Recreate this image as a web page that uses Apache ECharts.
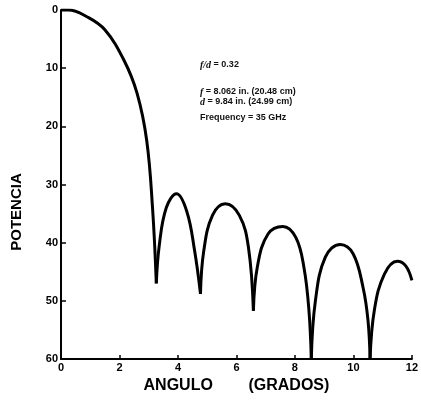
<!DOCTYPE html>
<html>
<head>
<meta charset="utf-8">
<script src="https://cdn.jsdelivr.net/npm/echarts@6/dist/echarts.min.js"></script>
<style>
  html, body { margin: 0; padding: 0; background: #fff; }
  #chart { width: 421px; height: 401px; }
</style>
</head>
<body>
<div id="chart"></div>
<script>
// ticks
var xTicks = [0, 2, 4, 6, 8, 10, 12]
var yTicks = [0, 10, 20, 30, 40, 50, 60]

// pattern, one array per lobe: [angulo, potencia]
var mainLobe = [[0, 0], [0.25, 0], [0.9, 1.2], [1.5, 3.4], [2.15, 8.6], [2.6, 14.3], [2.93, 22.4], [3.13, 34], [3.26, 47]]
var lobe1 = [[3.26, 47], [3.36, 40.5], [3.6, 34], [3.95, 31.6], [4.3, 34.6], [4.57, 41.4], [4.77, 48.8]]
var lobe2 = [[4.77, 48.8], [4.88, 41.5], [5.18, 35.3], [5.62, 33.3], [6.1, 35.3], [6.41, 40.8], [6.58, 51.7]]
var lobe3 = [[6.58, 51.7], [6.72, 44], [7.08, 38.5], [7.59, 37.2], [8.03, 39.1], [8.31, 44.3], [8.48, 51.7], [8.56, 60]]
var lobe4 = [[8.56, 60], [8.7, 50], [9.04, 42.5], [9.55, 40.3], [9.99, 41.9], [10.33, 47.7], [10.5, 53.4], [10.57, 60]]
var lobe5 = [[10.57, 60], [10.72, 51.5], [11.06, 45.4], [11.5, 43.2], [11.79, 44], [12, 46.5]]

var lobes = [mainLobe, lobe1, lobe2, lobe3, lobe4, lobe5]

var notes = [
  '{i|f/d} = 0.32',
  '{i|f} = 8.062 in. (20.48 cm)',
  '{i|d} = 9.84 in. (24.99 cm)',
  'Frequency = 35 GHz'
]
var noteY = [65, 92, 102, 118]

var labelFont = { color: '#000', fontFamily: 'Liberation Sans', fontWeight: 'bold', fontSize: 11 }

var chart = echarts.init(document.getElementById('chart'))

var option = {
  animation: false,
  backgroundColor: '#fff',
  grid: { left: 61, right: 3, top: 10, bottom: 42 },
  xAxis: {
    type: 'value',
    position: 'bottom',
    min: xTicks[0],
    max: xTicks[xTicks.length - 1],
    interval: 2,
    name: 'ANGULO        (GRADOS)',
    nameLocation: 'middle',
    nameGap: 13,
    nameTextStyle: { color: '#000', fontFamily: 'Liberation Sans', fontWeight: 'bold', fontSize: 16 },
    axisLine: { onZero: false, lineStyle: { color: '#000', width: 2 } },
    axisTick: { inside: true, length: 4, lineStyle: { color: '#000', width: 1.5 } },
    axisLabel: Object.assign({ margin: 3 }, labelFont),
    splitLine: { show: false }
  },
  yAxis: {
    type: 'value',
    inverse: true,
    min: yTicks[0],
    max: yTicks[yTicks.length - 1],
    interval: 10,
    axisLine: { show: true, onZero: false, lineStyle: { color: '#000', width: 2 } },
    axisTick: { show: true, inside: true, length: 5, lineStyle: { color: '#000', width: 1.5 } },
    axisLabel: Object.assign({ margin: 3 }, labelFont),
    splitLine: { show: false }
  },
  graphic: [
    {
      type: 'text',
      x: 17,
      y: 212,
      rotation: Math.PI / 2,
      style: {
        text: 'POTENCIA',
        fill: '#000',
        font: 'bold 15px "Liberation Sans"',
        textAlign: 'center',
        textVerticalAlign: 'middle'
      }
    }
  ].concat(notes.map(function (t, i) {
    return {
      type: 'text',
      x: 200,
      y: noteY[i],
      style: {
        text: t,
        fill: '#111',
        font: 'bold 9px "Liberation Sans"',
        textVerticalAlign: 'middle',
        rich: {
          i: { fontStyle: 'italic', fontFamily: 'Liberation Serif', fontSize: 10, fontWeight: 'bold' }
        }
      }
    }
  })),
  series: lobes.map(function (d) {
    return {
      type: 'line',
      data: d,
      smooth: 0.4,
      symbol: 'none',
      lineStyle: { color: '#000', width: 3 }
    }
  })
}

chart.setOption(option)
</script>
</body>
</html>
